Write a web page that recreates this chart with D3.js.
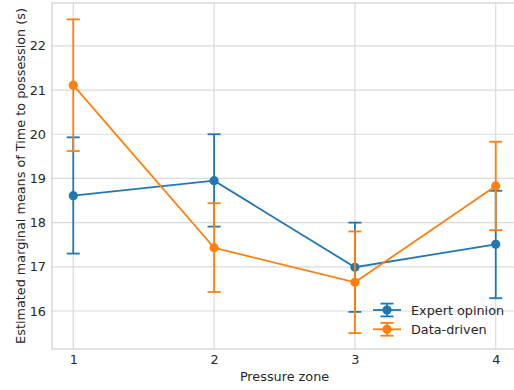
<!DOCTYPE html>
<html>
<head>
<meta charset="utf-8">
<script src="https://cdn.jsdelivr.net/npm/d3@7"></script>
<style>
  body { margin: 0; background: #fff; }
  text { font-family: "DejaVu Sans", sans-serif; fill: #262626; }
</style>
</head>
<body>
<svg></svg>
<script>
var width = 514,
    height = 390;

var zones = [1, 2, 3, 4];
var yTicks = [16, 17, 18, 19, 20, 21, 22];

var expertMean = [18.61, 18.95, 16.99, 17.51];
var expertLow = [17.30, 17.91, 15.98, 16.29];
var expertHigh = [19.93, 20.00, 18.00, 18.72];

var dataMean = [21.11, 17.43, 16.65, 18.83];
var dataLow = [19.62, 16.43, 15.50, 17.83];
var dataHigh = [22.60, 18.44, 17.80, 19.83];

var seriesNames = ["Expert opinion", "Data-driven"];
var seriesColors = ["#1f77b4", "#ff7f0e"];

var series = [
    { name: seriesNames[0], color: seriesColors[0], mean: expertMean, low: expertLow, high: expertHigh },
    { name: seriesNames[1], color: seriesColors[1], mean: dataMean, low: dataLow, high: dataHigh }
];

var plotLeft = 52, plotRight = 517, plotTop = 3, plotBottom = 349;
var fontSize = "12.8px";

var svg = d3.select("svg")
    .attr("width", width)
    .attr("height", height);

var x = d3.scaleLinear().domain([0.849, 4.151]).range([plotLeft, plotRight]);
var y = d3.scaleLinear().domain([15.14, 22.97]).range([plotBottom, plotTop]);

var grid = svg.append("g").attr("class", "grid");

grid.selectAll("line.h")
    .data(yTicks)
    .enter()
    .append("line")
    .attr("x1", plotLeft).attr("x2", plotRight)
    .attr("y1", function (d) { return y(d); })
    .attr("y2", function (d) { return y(d); })
    .attr("stroke", "#dadada")
    .attr("stroke-width", 1.2);

grid.selectAll("line.v")
    .data(zones)
    .enter()
    .append("line")
    .attr("y1", plotTop).attr("y2", plotBottom)
    .attr("x1", function (d) { return x(d); })
    .attr("x2", function (d) { return x(d); })
    .attr("stroke", "#dadada")
    .attr("stroke-width", 1.2);

// frame
svg.append("rect")
    .attr("x", plotLeft).attr("y", plotTop)
    .attr("width", plotRight - plotLeft).attr("height", plotBottom - plotTop)
    .attr("fill", "none")
    .attr("stroke", "#cfcfcf")
    .attr("stroke-width", 1.2);

// axes (labels only, no tick marks)
var xAxis = svg.append("g")
    .attr("transform", "translate(0," + plotBottom + ")")
    .call(d3.axisBottom(x).tickValues(zones).tickFormat(d3.format("d")).tickSize(0).tickPadding(6));
var yAxis = svg.append("g")
    .attr("transform", "translate(" + plotLeft + ",0)")
    .call(d3.axisLeft(y).tickValues(yTicks).tickFormat(d3.format("d")).tickSize(0).tickPadding(6));
[xAxis, yAxis].forEach(function (a) {
    a.select(".domain").remove();
    a.selectAll("text").style("font-size", fontSize).attr("fill", "#262626");
});

svg.append("text")
    .attr("x", (plotLeft + plotRight) / 2)
    .attr("y", 381)
    .attr("text-anchor", "middle")
    .style("font-size", fontSize)
    .text("Pressure zone");

svg.append("text")
    .attr("transform", "translate(24.5," + (plotTop + plotBottom) / 2 + ") rotate(-90)")
    .attr("text-anchor", "middle")
    .style("font-size", fontSize)
    .text("Estimated marginal means of Time to possession (s)");

var capHalf = 6.5;

var line = d3.line()
    .x(function (d, i) { return x(zones[i]); })
    .y(function (d) { return y(d); });

series.forEach(function (s) {
    var g = svg.append("g");

    g.append("path")
        .datum(s.mean)
        .attr("d", line)
        .attr("fill", "none")
        .attr("stroke", s.color)
        .attr("stroke-width", 1.8);

    zones.forEach(function (z, i) {
        g.append("line")
            .attr("x1", x(z)).attr("x2", x(z))
            .attr("y1", y(s.low[i])).attr("y2", y(s.high[i]))
            .attr("stroke", s.color).attr("stroke-width", 1.8);
        [s.low[i], s.high[i]].forEach(function (v) {
            g.append("line")
                .attr("x1", x(z) - capHalf).attr("x2", x(z) + capHalf)
                .attr("y1", y(v)).attr("y2", y(v))
                .attr("stroke", s.color).attr("stroke-width", 1.8);
        });
    });

    g.selectAll("circle")
        .data(s.mean)
        .enter()
        .append("circle")
        .attr("cx", function (d, i) { return x(zones[i]); })
        .attr("cy", function (d) { return y(d); })
        .attr("r", 4.6)
        .attr("fill", s.color);
});

// legend
var legend = svg.append("g").attr("transform", "translate(373,310)");
series.forEach(function (s, i) {
    var row = legend.append("g").attr("transform", "translate(0," + i * 19.3 + ")");
    row.append("line")
        .attr("x1", 0).attr("x2", 28).attr("y1", 0).attr("y2", 0)
        .attr("stroke", s.color).attr("stroke-width", 1.8);
    row.append("line")
        .attr("x1", 14).attr("x2", 14).attr("y1", -6.4).attr("y2", 6.4)
        .attr("stroke", s.color).attr("stroke-width", 1.8);
    [-6.4, 6.4].forEach(function (dy) {
        row.append("line")
            .attr("x1", 14 - capHalf).attr("x2", 14 + capHalf)
            .attr("y1", dy).attr("y2", dy)
            .attr("stroke", s.color).attr("stroke-width", 1.8);
    });
    row.append("circle").attr("cx", 14).attr("cy", 0).attr("r", 4.6).attr("fill", s.color);
    row.append("text")
        .attr("x", 38).attr("y", 0)
        .attr("dy", "0.36em")
        .style("font-size", fontSize)
        .text(s.name);
});
</script>
</body>
</html>
